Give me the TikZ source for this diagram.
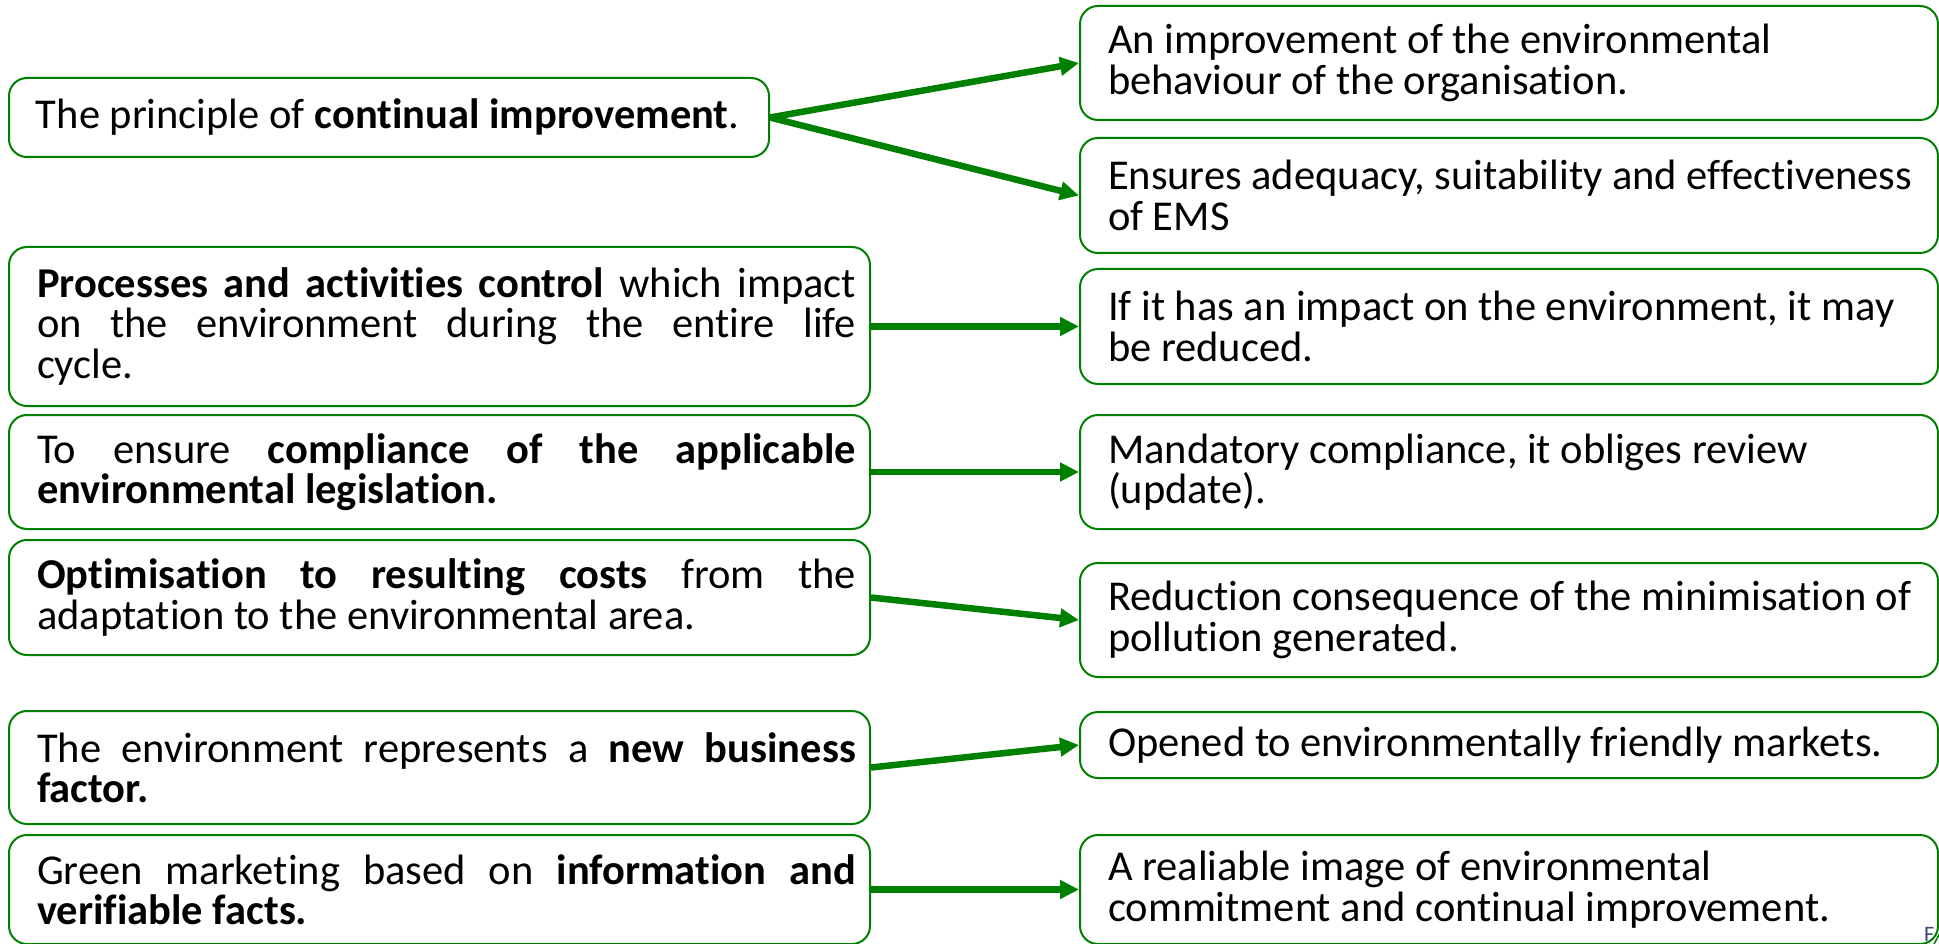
\documentclass[tikz,border=0pt]{standalone}
\usepackage{fontspec}
\setmainfont{Carlito}[Ligatures=NoCommon]
\usetikzlibrary{arrows.meta}
\definecolor{boxgreen}{RGB}{0,128,0}
\definecolor{logoblue}{RGB}{60,72,120}
\newcommand{\Ltext}[1]{\hspace*{14pt}\parbox{819pt}{#1}}
\newcommand{\Rtext}[1]{\hspace*{14pt}\parbox{816pt}{\raggedright #1}}
\tikzset{
  box/.style={draw=boxgreen, line width=2pt, rounded corners=18pt, anchor=north west,
    inner xsep=14pt, inner ysep=0pt, font=\fontsize{42.5}{40.5}\selectfont, text=black},
  link/.style={draw=boxgreen, line width=6.5pt, -{Triangle[length=19pt,width=18pt]}}
}
\begin{document}
\begin{tikzpicture}[x=1pt,y=-1pt]
\useasboundingbox (0,0) rectangle (1939,944);
% left boxes
\node[box, minimum height=79pt] (l1) at (8,77)
  {\hspace*{13pt}\parbox{719pt}{The principle of \textbf{continual improvement}.}};
\node[box, minimum height=159pt] (l2) at (8,246)
  {\Ltext{\textbf{Processes and activities control} which impact\linebreak on the environment during the entire life\linebreak cycle.}};
\node[box, minimum height=114pt] (l3) at (8,414)
  {\Ltext{To ensure \textbf{compliance of the applicable\linebreak environmental legislation.}}};
\node[box, minimum height=115pt] (l4) at (8,539)
  {\Ltext{\textbf{Optimisation to resulting costs} from the\linebreak adaptation to the environmental area.}};
\node[box, minimum height=113pt] (l5) at (8,710)
  {\Ltext{The environment represents a \textbf{new business\linebreak factor.}}};
\node[box, minimum height=109pt] (l6) at (8,834)
  {\Ltext{Green marketing based on \textbf{information and\linebreak verifiable facts.}}};
% right boxes
\node[box, minimum height=114pt] (r1) at (1079,5)
  {\Rtext{An improvement of the environmental\\behaviour of the organisation.}};
\node[box, minimum height=115pt] (r2) at (1079,137)
  {\Rtext{Ensures adequacy, suitability and effectiveness\\of EMS}};
\node[box, minimum height=115pt] (r3) at (1079,268)
  {\Rtext{If it has an impact on the environment, it may\\be reduced.}};
\node[box, minimum height=114pt] (r4) at (1079,414)
  {\Rtext{Mandatory compliance, it obliges review\\(update).}};
\node[box, minimum height=114pt] (r5) at (1079,562)
  {\Rtext{Reduction consequence of the minimisation of\\pollution generated.}};
\node[box, minimum height=66pt] (r6) at (1079,711)
  {\Rtext{Opened to environmentally friendly markets.}};
\node[box, minimum height=109pt] (r7) at (1079,834)
  {\Rtext{A realiable image of environmental\\commitment and continual improvement.}};
% connectors
\draw[link] (l1.east) -- (r1.west);
\draw[link] (l1.east) -- (r2.west);
\draw[link] (l2.east) -- (r3.west);
\draw[link] (l3.east) -- (r4.west);
\draw[link] (l4.east) -- (r5.west);
\draw[link] (l5.east) -- (r6.west);
\draw[link] (l6.east) -- (r7.west);
% clipped logo fragment
\node[anchor=north west, inner sep=0pt, text=logoblue, font=\fontsize{22}{22}\selectfont] (logo) at (1924,927) {F};
\coordinate (s1) at (1933,946);
\coordinate (s2) at (1941,931);
\draw[boxgreen, line width=1.5pt] (s1) -- (s2);
\end{tikzpicture}
\end{document}
